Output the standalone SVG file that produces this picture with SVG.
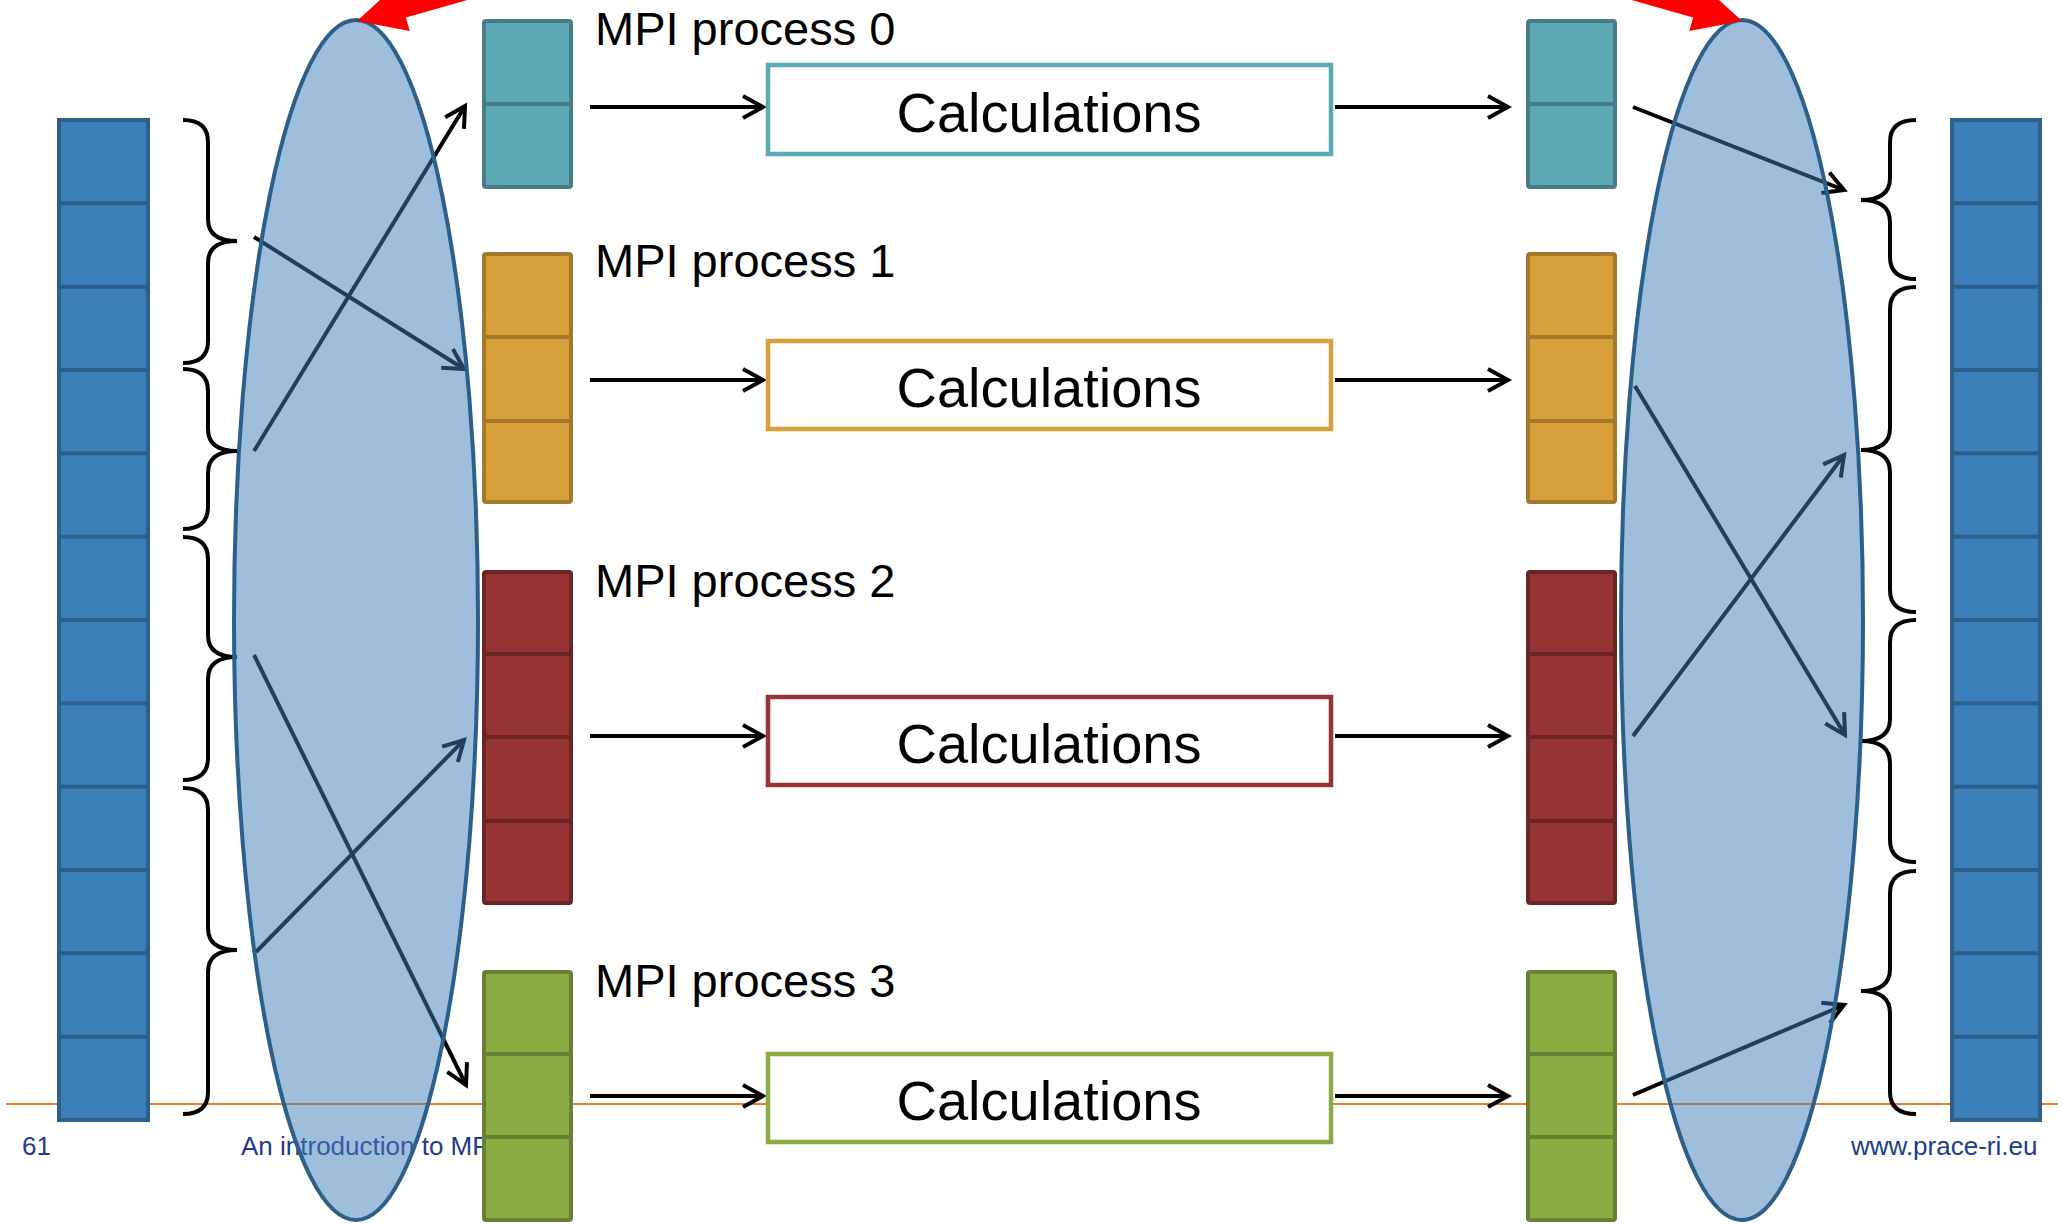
<svg xmlns="http://www.w3.org/2000/svg" width="2063" height="1224" viewBox="0 0 2063 1224">
<style>
.bar{fill:#3a7fba;stroke:#2d5f8b;stroke-width:4}
.barl{stroke:#2d5f8b;stroke-width:4}
.teal{fill:#5ca8b5;stroke:#477d87;stroke-width:4}
.tealL{stroke:#477d87;stroke-width:4}
.orange{fill:#d8a03a;stroke:#a3792e;stroke-width:4}
.orangeL{stroke:#a3792e;stroke-width:4}
.red{fill:#963335;stroke:#6c2527;stroke-width:4}
.redL{stroke:#6c2527;stroke-width:4}
.green{fill:#8bab43;stroke:#697f33;stroke-width:4}
.greenL{stroke:#697f33;stroke-width:4}
.calc{fill:#ffffff;stroke-width:4.5}
.lbl{font-family:"Liberation Sans",Arial,sans-serif;font-size:47px;fill:#000}
.ctext{font-family:"Liberation Sans",Arial,sans-serif;font-size:56px;fill:#000;text-anchor:middle}
.foot{font-family:"Liberation Sans",Arial,sans-serif;font-size:26px;fill:#233a8b}
.arr{stroke:#000;stroke-width:4;fill:none;marker-end:url(#chev)}
.brace{stroke:#000;stroke-width:4;fill:none}
.ell{fill:rgb(62,126,184);fill-opacity:0.5;stroke:#2c5f8a;stroke-width:4}
</style>
<defs>
<marker id="chev" markerUnits="userSpaceOnUse" viewBox="-26 -16 30 32" markerWidth="30" markerHeight="32" refX="0" refY="0" orient="auto">
<path d="M-20,-11 L0,0 L-20,11" fill="none" stroke="#000" stroke-width="4"/>
</marker>
</defs>
<rect width="2063" height="1224" fill="#ffffff"/>

<g id="footer">
<line x1="6" y1="1104" x2="2058" y2="1104" stroke="#f07a28" stroke-width="2"/>
<text class="foot" x="22" y="1155">61</text>
<text class="foot" x="241" y="1155">An introduction to MPI</text>
<text class="foot" x="1851" y="1155">www.prace-ri.eu</text>
</g>

<g id="input-array">
<rect class="bar" x="59" y="120" width="89" height="1000"/>
<path class="barl" d="M59,203.3H148M59,286.7H148M59,370H148M59,453.3H148M59,536.7H148M59,620H148M59,703.3H148M59,786.7H148M59,870H148M59,953.3H148M59,1036.7H148"/>
</g>

<g id="output-array">
<rect class="bar" x="1952" y="120" width="88" height="1000"/>
<path class="barl" d="M1952,203.3H2040M1952,286.7H2040M1952,370H2040M1952,453.3H2040M1952,536.7H2040M1952,620H2040M1952,703.3H2040M1952,786.7H2040M1952,870H2040M1952,953.3H2040M1952,1036.7H2040"/>
</g>

<g id="braces-left">
<path class="brace" d="M183,120 Q208,120 208,142 L208,219 Q208,241 237,241 Q208,241 208,263 L208,341 Q208,363 183,363"/>
<path class="brace" d="M183,369 Q208,369 208,391 L208,429 Q208,451 237,451 Q208,451 208,473 L208,507 Q208,529 183,529"/>
<path class="brace" d="M183,537 Q208,537 208,559 L208,635 Q208,657 237,657 Q208,657 208,679 L208,758 Q208,780 183,780"/>
<path class="brace" d="M183,788 Q208,788 208,810 L208,928 Q208,950 237,950 Q208,950 208,972 L208,1092 Q208,1114 183,1114"/>
</g>

<g id="braces-right">
<path class="brace" d="M1916,120 Q1890,120 1890,142 L1890,178 Q1890,200 1861,200 Q1890,200 1890,222 L1890,257 Q1890,279 1916,279"/>
<path class="brace" d="M1916,287 Q1890,287 1890,309 L1890,428 Q1890,450 1861,450 Q1890,450 1890,472 L1890,590 Q1890,612 1916,612"/>
<path class="brace" d="M1916,620 Q1890,620 1890,642 L1890,719 Q1890,741 1861,741 Q1890,741 1890,763 L1890,840 Q1890,862 1916,862"/>
<path class="brace" d="M1916,871 Q1890,871 1890,893 L1890,969 Q1890,991 1861,991 Q1890,991 1890,1013 L1890,1092 Q1890,1114 1916,1114"/>
</g>

<g id="connectors">
<line class="arr" x1="254" y1="237" x2="464" y2="369"/>
<line class="arr" x1="254" y1="451" x2="465" y2="106"/>
<line class="arr" x1="254" y1="655" x2="466" y2="1085"/>
<line class="arr" x1="256" y1="952" x2="464" y2="740"/>
<line class="arr" x1="590" y1="107" x2="763" y2="107"/>
<line class="arr" x1="590" y1="380" x2="763" y2="380"/>
<line class="arr" x1="590" y1="736" x2="763" y2="736"/>
<line class="arr" x1="590" y1="1096" x2="763" y2="1096"/>
<line class="arr" x1="1335" y1="107" x2="1508" y2="107"/>
<line class="arr" x1="1335" y1="380" x2="1508" y2="380"/>
<line class="arr" x1="1335" y1="736" x2="1508" y2="736"/>
<line class="arr" x1="1335" y1="1096" x2="1508" y2="1096"/>
<line class="arr" x1="1633" y1="107" x2="1844" y2="190"/>
<line class="arr" x1="1635" y1="386" x2="1845" y2="735"/>
<line class="arr" x1="1633" y1="736" x2="1844" y2="455"/>
<line class="arr" x1="1633" y1="1095" x2="1844" y2="1005"/>
</g>

<g id="proc0">
<rect class="teal" x="484" y="21" width="87" height="166" rx="2"/>
<line class="tealL" x1="484" y1="104" x2="571" y2="104"/>
<text class="lbl" x="595" y="45">MPI process 0</text>
<rect class="calc" x="768" y="65" width="563" height="89" stroke="#5aa9b6"/>
<text class="ctext" x="1049" y="132">Calculations</text>
<rect class="teal" x="1528" y="21" width="87" height="166" rx="2"/>
<line class="tealL" x1="1528" y1="104" x2="1615" y2="104"/>
</g>

<g id="proc1">
<rect class="orange" x="484" y="254" width="87" height="248" rx="2"/>
<path class="orangeL" d="M484,337H571M484,421H571"/>
<text class="lbl" x="595" y="277">MPI process 1</text>
<rect class="calc" x="768" y="341" width="563" height="88" stroke="#d9a03c"/>
<text class="ctext" x="1049" y="407">Calculations</text>
<rect class="orange" x="1528" y="254" width="87" height="248" rx="2"/>
<path class="orangeL" d="M1528,337H1615M1528,421H1615"/>
</g>

<g id="proc2">
<rect class="red" x="484" y="572" width="87" height="331" rx="2"/>
<path class="redL" d="M484,654H571M484,737H571M484,821H571"/>
<text class="lbl" x="595" y="597">MPI process 2</text>
<rect class="calc" x="768" y="697" width="563" height="88" stroke="#963436"/>
<text class="ctext" x="1049" y="763">Calculations</text>
<rect class="red" x="1528" y="572" width="87" height="331" rx="2"/>
<path class="redL" d="M1528,654H1615M1528,737H1615M1528,821H1615"/>
</g>

<g id="proc3">
<rect class="green" x="484" y="972" width="87" height="248" rx="2"/>
<path class="greenL" d="M484,1054H571M484,1137H571"/>
<text class="lbl" x="595" y="997">MPI process 3</text>
<rect class="calc" x="768" y="1054" width="563" height="88" stroke="#8aab45"/>
<text class="ctext" x="1049" y="1120">Calculations</text>
<rect class="green" x="1528" y="972" width="87" height="248" rx="2"/>
<path class="greenL" d="M1528,1054H1615M1528,1137H1615"/>
</g>

<g id="scatter">
<ellipse class="ell" cx="356" cy="620" rx="122" ry="600"/>
</g>
<g id="gather">
<ellipse class="ell" cx="1742" cy="620" rx="121" ry="600"/>
</g>

<g id="red-arrows">
<polygon fill="#ff0000" points="357,21 409.7,31 405.9,17.5 504,-10.4 498.6,-29.6 400.5,-1.7 396.6,-15.2"/>
<polygon fill="#ff0000" points="1742,21 1689.3,31 1693.1,17.5 1595,-10.4 1600.4,-29.6 1698.5,-1.7 1702.4,-15.2"/>
</g>
</svg>
